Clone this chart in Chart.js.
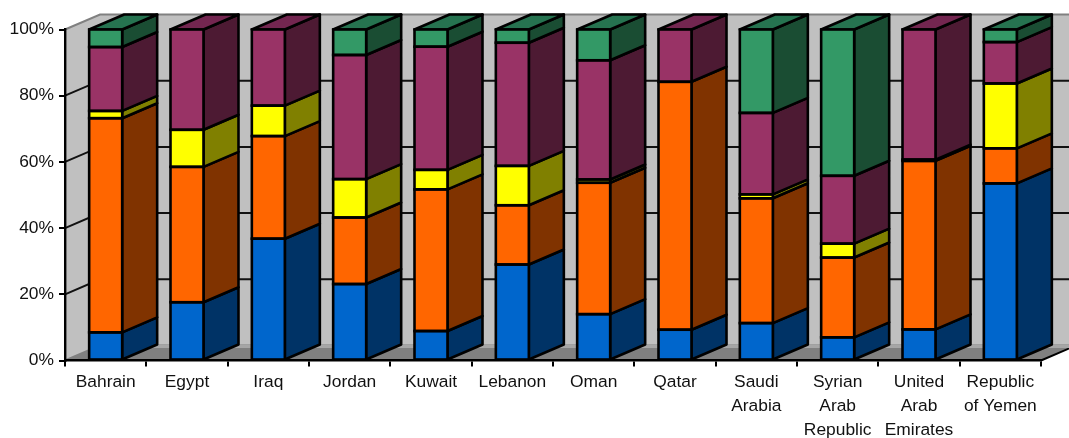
<!DOCTYPE html>
<html>
<head>
<meta charset="utf-8">
<title>Stacked shares by country</title>
<script src="https://cdn.jsdelivr.net/npm/chart.js@4"></script>
<style>
  html, body { margin: 0; padding: 0; background: #fff; overflow: hidden; }
  canvas { display: block; }
</style>
</head>
<body>
<canvas id="chart" width="1069" height="438"></canvas>
<script>
const categories = [
  'Bahrain', 'Egypt', 'Iraq', 'Jordan', 'Kuwait', 'Lebanon', 'Oman', 'Qatar',
  ['Saudi', 'Arabia'], ['Syrian', 'Arab', 'Republic'], ['United', 'Arab', 'Emirates'],
  ['Republic', 'of Yemen'],
];

const blueValues = [8.5, 17.6, 36.8, 23.1, 8.9, 29, 14, 9.3, 11.3, 7, 9.4, 53.5];
const orangeValues = [64.7, 40.9, 31, 20.1, 42.8, 17.9, 39.7, 74.9, 37.7, 24.1, 50.9, 10.6];
const yellowValues = [2.2, 11.2, 9.2, 11.6, 5.9, 11.9, 1, 0, 1.2, 4.2, 0.4, 19.6];
const purpleValues = [19.3, 30.3, 23, 37.5, 37.2, 37.2, 36, 15.8, 24.6, 20.5, 39.3, 12.5];
const greenValues = [5.3, 0, 0, 7.7, 5.2, 4, 9.3, 0, 25.2, 44.2, 0, 3.8];

const frontColors = ['#0066cc', '#ff6600', '#ffff00', '#993366', '#339966'];
const sideColors = ['#003366', '#803300', '#808000', '#4d1a33', '#1a4d33'];
const topColors = ['#004d99', '#bf4d00', '#bfbf00', '#732650', '#267350'];

// Depth of the fake 3D box, shared by the walls and the bars.
const DX = 35;
const DY = 15;
const LINE = 2.6;

const box3d = {
  id: 'box3d',

  // Side walls, floor and back gridlines sit behind everything else.
  beforeDraw(chart) {
    const { ctx, chartArea: a, scales: { y } } = chart;
    const y0 = y.getPixelForValue(0);
    const y100 = y.getPixelForValue(100);
    ctx.save();
    ctx.fillStyle = '#c0c0c0';
    ctx.fillRect(a.left + DX, y100 - DY, a.right - a.left, y0 - y100);
    ctx.beginPath();
    ctx.moveTo(a.left, y100);
    ctx.lineTo(a.left + DX, y100 - DY);
    ctx.lineTo(a.left + DX, y0 - DY);
    ctx.lineTo(a.left, y0);
    ctx.closePath();
    ctx.fill();

    ctx.fillStyle = '#808080';
    ctx.beginPath();
    ctx.moveTo(a.left, y0);
    ctx.lineTo(a.left + DX, y0 - DY);
    ctx.lineTo(a.right + DX, y0 - DY);
    ctx.lineTo(a.right, y0);
    ctx.closePath();
    ctx.fill();

    // Front edge of the floor running back from the last tick.
    ctx.strokeStyle = '#000';
    ctx.lineWidth = 2;
    ctx.beginPath();
    ctx.moveTo(a.right, y0);
    ctx.lineTo(a.right + DX, y0 - DY);
    ctx.stroke();

    y.ticks.forEach((t) => {
      const py = y.getPixelForValue(t.value);
      const edge = t.value === 0 || t.value === 100;
      ctx.strokeStyle = edge ? '#808080' : '#111';
      ctx.beginPath();
      ctx.moveTo(a.left, py);
      ctx.lineTo(a.left + DX, py - DY);
      ctx.lineTo(a.right + DX, py - DY);
      ctx.stroke();
    });
    ctx.strokeStyle = '#a6a6a6';
    ctx.lineWidth = 3;
    ctx.beginPath();
    ctx.moveTo(a.left + DX, y0 - DY + 1);
    ctx.lineTo(a.right + DX, y0 - DY + 1);
    ctx.stroke();
    ctx.restore();
  },

  // Right side and top face of each stack segment.
  beforeDatasetsDraw(chart) {
    const { ctx } = chart;
    ctx.save();
    ctx.lineWidth = LINE;
    ctx.lineJoin = 'round';
    ctx.strokeStyle = '#000';
    chart.data.datasets.forEach((ds, i) => {
      chart.getDatasetMeta(i).data.forEach((bar, j) => {
        if (!ds.data[j]) return;
        const right = bar.x + bar.width / 2;
        const left = bar.x - bar.width / 2;
        ctx.fillStyle = sideColors[i];
        ctx.beginPath();
        ctx.moveTo(right, bar.y);
        ctx.lineTo(right + DX, bar.y - DY);
        ctx.lineTo(right + DX, bar.base - DY);
        ctx.lineTo(right, bar.base);
        ctx.closePath();
        ctx.fill();
        ctx.stroke();

        const above = chart.data.datasets.slice(i + 1).some((d) => d.data[j] > 0);
        if (above) return;
        ctx.fillStyle = topColors[i];
        ctx.beginPath();
        ctx.moveTo(left, bar.y);
        ctx.lineTo(left + DX, bar.y - DY);
        ctx.lineTo(right + DX, bar.y - DY);
        ctx.lineTo(right, bar.y);
        ctx.closePath();
        ctx.fill();
        ctx.stroke();
      });
    });
    ctx.restore();
  },

  // Outlines centred on segment edges, so neighbours share a single line.
  afterDatasetsDraw(chart) {
    const { ctx } = chart;
    ctx.save();
    ctx.lineWidth = LINE;
    ctx.strokeStyle = '#000';
    chart.data.datasets.forEach((ds, i) => {
      chart.getDatasetMeta(i).data.forEach((bar, j) => {
        if (!ds.data[j]) return;
        ctx.strokeRect(bar.x - bar.width / 2, bar.y, bar.width, bar.base - bar.y);
      });
    });
    ctx.restore();
  },
};

const series = [blueValues, orangeValues, yellowValues, purpleValues, greenValues];

new Chart(document.getElementById('chart'), {
  type: 'bar',
  data: {
    labels: categories,
    datasets: series.map((data, i) => ({
      data,
      backgroundColor: frontColors[i],
      borderWidth: 0,
      barThickness: 33,
    })),
  },
  options: {
    responsive: false,
    animation: false,
    layout: { padding: { top: 29.5, right: 28, bottom: 0, left: 0 } },
    plugins: { legend: { display: false }, title: { display: false }, tooltip: { enabled: false } },
    scales: {
      x: {
        stacked: true,
        afterFit: (scale) => { scale.height = 77.5; },
        border: { color: '#000', width: 2.4 },
        grid: { offset: true, drawOnChartArea: false, color: '#000', lineWidth: 2, tickLength: 6, tickColor: '#000' },
        ticks: {
          color: '#111',
          autoSkip: false,
          maxRotation: 0,
          minRotation: 0,
          padding: 4,
          font: { family: '"Liberation Sans", Arial, sans-serif', size: 17.4, lineHeight: 24 / 17.4 },
        },
      },
      y: {
        stacked: true,
        min: 0,
        max: 100,
        afterFit: (scale) => { scale.width = 65; },
        border: { color: '#000', width: 2.4 },
        grid: { drawOnChartArea: false, color: '#000', lineWidth: 2, tickLength: 6, tickColor: '#000' },
        ticks: {
          stepSize: 20,
          color: '#111',
          padding: 5,
          callback: (v) => `${v}%`,
          font: { family: '"Liberation Sans", Arial, sans-serif', size: 17.4 },
        },
      },
    },
  },
  plugins: [box3d],
});
</script>
</body>
</html>
